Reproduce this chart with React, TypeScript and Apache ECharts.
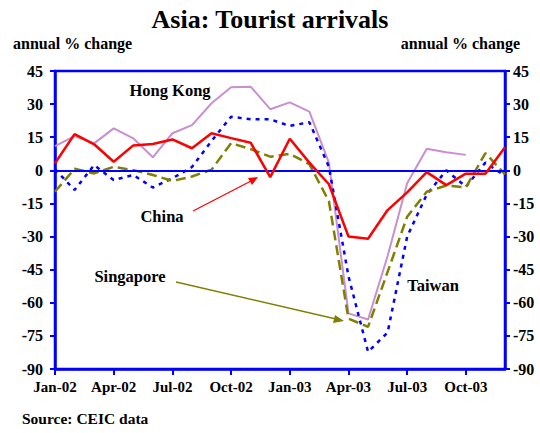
import React, { useEffect, useRef } from "react";
import * as echarts from "echarts";

const categories = [
  "Jan-02", "Feb-02", "Mar-02", "Apr-02", "May-02", "Jun-02", "Jul-02", "Aug-02", "Sep-02", "Oct-02", "Nov-02", "Dec-02",
  "Jan-03", "Feb-03", "Mar-03", "Apr-03", "May-03", "Jun-03", "Jul-03", "Aug-03", "Sep-03", "Oct-03", "Nov-03", "Dec-03",
];

const hongKong = [11, 15.5, 12.2, 19, 14.5, 5.9, 16.8, 20.5, 30.4, 37.6, 37.9, 27.7, 30.8, 26.6, 3.5, -64.8, -67.6, -38.8, -5.9, 9.8, 8.2, 7.0, null, null];
const china = [3.2, 16.4, 11.8, 3.9, 11.3, 11.9, 14, 10, 16.8, 14.6, 12.5, -3.1, 14.3, 3.5, -6.3, -30, -31, -18, -10, -0.8, -6.7, -1.5, -1.5, 10.5];
const taiwan = [0.5, -8.9, 2.4, -4.4, -2.1, -7.8, -3.6, 1.5, 13.3, 24.3, 23.1, 23.1, 20.1, 21.8, 1.6, -48, -82.2, -73.5, -30, -11, 0, -7.4, 3.5, -2.5];
const singapore = [-9.7, 0.7, -1.4, 1.6, 0.1, -2.1, -4.8, -2.8, 0.3, 12.3, 9.6, 6.2, 7.5, 2.8, -14, -67.2, -70.9, -46, -21, -9.7, -6.9, -7.7, 7.8, -1.8];

const yMin = -90;
const yMax = 45;
const yStep = 15;

const FONT = "'Liberation Serif', 'Times New Roman', serif";
const BLUE = "#0000ff";

export default function App() {
  const ref = useRef<HTMLDivElement>(null);
  useEffect(() => {
    if (!ref.current) return;
    const chart = echarts.init(ref.current, null, { renderer: "svg" });
    const labelStyle = { fontFamily: FONT, fontWeight: "bold" as const, fontSize: 16, color: "#000" };
    const yAxisBase = {
      type: "value" as const,
      min: yMin,
      max: yMax,
      interval: yStep,
      axisLine: { show: true, onZero: false, lineStyle: { color: BLUE, width: 2.5 } },
      axisTick: { show: true, length: 5, lineStyle: { color: BLUE, width: 2 } },
      splitLine: { show: false },
    };
    chart.setOption({
      animation: false,
      title: {
        text: "Asia: Tourist arrivals",
        left: "center",
        top: 1,
        textStyle: { fontFamily: FONT, fontWeight: "bold", fontSize: 26, color: "#000" },
      },
      grid: {
        left: 55,
        right: 35,
        top: 71,
        bottom: 64,
        show: true,
        borderColor: BLUE,
        borderWidth: 2.5,
        backgroundColor: "transparent",
      },
      xAxis: {
        type: "category",
        data: categories,
        boundaryGap: false,
        axisLine: { show: true, onZero: false, lineStyle: { color: BLUE, width: 2.5 } },
        axisTick: { show: true, interval: 2, length: 6, lineStyle: { color: BLUE, width: 2 } },
        axisLabel: { ...labelStyle, fontSize: 15, interval: 2, margin: 10 },
        splitLine: { show: false },
      },
      yAxis: [
        { ...yAxisBase, position: "left", axisLabel: { ...labelStyle, margin: 12 } },
        { ...yAxisBase, position: "right", axisLabel: { ...labelStyle, margin: 8 } },
      ],
      series: [
        {
          name: "Hong Kong",
          type: "line",
          data: hongKong,
          symbol: "none",
          lineStyle: { color: "#c98fcf", width: 2 },
          z: 2,
        },
        {
          name: "Taiwan",
          type: "line",
          data: taiwan,
          symbol: "none",
          lineStyle: { color: BLUE, width: 2.5, type: [4, 5] },
          z: 3,
        },
        {
          name: "Singapore",
          type: "line",
          data: singapore,
          symbol: "none",
          lineStyle: { color: "#808000", width: 2.5, type: [10, 5] },
          z: 4,
        },
        {
          name: "China",
          type: "line",
          data: china,
          symbol: "none",
          lineStyle: { color: "#ff0000", width: 2.5 },
          z: 5,
          markLine: {
            silent: true,
            symbol: "none",
            label: { show: false },
            lineStyle: { color: BLUE, width: 2, type: "solid" },
            data: [{ yAxis: 0 }],
          },
        },
      ],
      graphic: [
        { type: "text", x: 13, y: 43, style: { text: "annual % change", font: `bold 16px ${FONT}`, fill: "#000", verticalAlign: "middle" } },
        { type: "text", x: 520, y: 43, style: { text: "annual % change", font: `bold 16px ${FONT}`, fill: "#000", align: "right", verticalAlign: "middle" } },
        { type: "text", x: 22, y: 418, style: { text: "Source: CEIC data", font: `bold 15.5px ${FONT}`, fill: "#000", verticalAlign: "middle" } },
        { type: "text", x: 170, y: 90, style: { text: "Hong Kong", font: `bold 16.5px ${FONT}`, fill: "#000", align: "center", verticalAlign: "middle" } },
        { type: "text", x: 162, y: 216, style: { text: "China", font: `bold 16.5px ${FONT}`, fill: "#000", align: "center", verticalAlign: "middle" } },
        { type: "text", x: 130, y: 276, style: { text: "Singapore", font: `bold 16.5px ${FONT}`, fill: "#000", align: "center", verticalAlign: "middle" } },
        { type: "text", x: 433, y: 285, style: { text: "Taiwan", font: `bold 16.5px ${FONT}`, fill: "#000", align: "center", verticalAlign: "middle" } },
        { type: "line", shape: { x1: 193, y1: 211, x2: 251, y2: 181 }, style: { stroke: "#ff0000", lineWidth: 1.3 } },
        { type: "polygon", shape: { points: [[258, 177], [248, 178], [252, 185]] }, style: { fill: "#ff0000" } },
        { type: "line", shape: { x1: 176, y1: 282, x2: 336, y2: 319 }, style: { stroke: "#808000", lineWidth: 1.3 } },
        { type: "polygon", shape: { points: [[344, 321], [335, 315], [333, 323]] }, style: { fill: "#808000" } },
      ],
    });
    return () => chart.dispose();
  }, []);
  return <div ref={ref} style={{ width: 540, height: 433, position: "absolute", left: 0, top: 0 }} />;
}
